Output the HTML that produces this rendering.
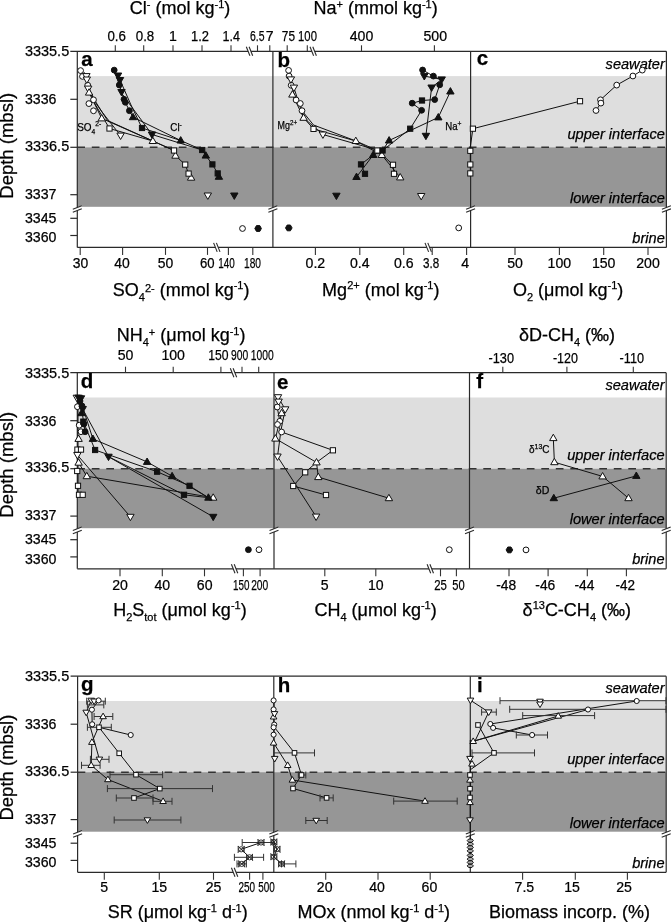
<!DOCTYPE html>
<html><head><meta charset="utf-8"><style>
html,body{margin:0;padding:0;background:#fff;}
svg{display:block;font-family:"Liberation Sans", sans-serif;filter:blur(0.5px);}
text{fill:#000;stroke:#000;stroke-width:0.25px;}
</style></head><body>
<svg width="671" height="922" viewBox="0 0 671 922">
<rect width="671" height="922" fill="#fff"/>
<rect x="77.3" y="76.1" width="589.1" height="71.2" fill="#dedede"/>
<rect x="77.3" y="147.3" width="589.1" height="59.5" fill="#969696"/>
<line x1="77.30" y1="147.30" x2="666.40" y2="147.30" stroke="#333" stroke-width="1.4" stroke-dasharray="7.7 6.8"/>
<line x1="70.30" y1="51.30" x2="666.40" y2="51.30" stroke="#2a2a2a" stroke-width="1.2" />
<line x1="77.30" y1="247.40" x2="666.40" y2="247.40" stroke="#2a2a2a" stroke-width="1.2" />
<line x1="77.30" y1="51.30" x2="77.30" y2="247.40" stroke="#2a2a2a" stroke-width="1.2" />
<line x1="272.90" y1="51.30" x2="272.90" y2="247.40" stroke="#2a2a2a" stroke-width="1.2" />
<line x1="470.60" y1="51.30" x2="470.60" y2="247.40" stroke="#2a2a2a" stroke-width="1.2" />
<line x1="666.40" y1="51.30" x2="666.40" y2="247.40" stroke="#2a2a2a" stroke-width="1.2" />
<line x1="70.30" y1="99.30" x2="77.30" y2="99.30" stroke="#2a2a2a" stroke-width="1.2" />
<line x1="70.30" y1="147.30" x2="77.30" y2="147.30" stroke="#2a2a2a" stroke-width="1.2" />
<line x1="70.30" y1="194.70" x2="77.30" y2="194.70" stroke="#2a2a2a" stroke-width="1.2" />
<line x1="70.30" y1="218.30" x2="77.30" y2="218.30" stroke="#2a2a2a" stroke-width="1.2" />
<line x1="70.30" y1="235.50" x2="77.30" y2="235.50" stroke="#2a2a2a" stroke-width="1.2" />
<text x="24.9" y="56.2" font-size="14.5" text-anchor="start" font-weight="normal" font-style="normal" textLength="44.3" lengthAdjust="spacingAndGlyphs">3335.5</text>
<text x="24.9" y="104.2" font-size="14.5" text-anchor="start" font-weight="normal" font-style="normal" textLength="31.5" lengthAdjust="spacingAndGlyphs">3336</text>
<text x="24.9" y="151.0" font-size="14.5" text-anchor="start" font-weight="normal" font-style="normal" textLength="44.3" lengthAdjust="spacingAndGlyphs">3336.5</text>
<text x="24.9" y="198.9" font-size="14.5" text-anchor="start" font-weight="normal" font-style="normal" textLength="31.5" lengthAdjust="spacingAndGlyphs">3337</text>
<text x="24.9" y="222.7" font-size="14.5" text-anchor="start" font-weight="normal" font-style="normal" textLength="31.5" lengthAdjust="spacingAndGlyphs">3345</text>
<text x="24.9" y="242.3" font-size="14.5" text-anchor="start" font-weight="normal" font-style="normal" textLength="31.5" lengthAdjust="spacingAndGlyphs">3360</text>
<polygon points="72.80,209.15 81.80,205.65 81.80,208.85 72.80,212.35" fill="#fff"/>
<line x1="72.80" y1="209.15" x2="81.80" y2="205.65" stroke="#2a2a2a" stroke-width="1.1" />
<line x1="72.80" y1="212.35" x2="81.80" y2="208.85" stroke="#2a2a2a" stroke-width="1.1" />
<polygon points="268.40,209.15 277.40,205.65 277.40,208.85 268.40,212.35" fill="#fff"/>
<line x1="268.40" y1="209.15" x2="277.40" y2="205.65" stroke="#2a2a2a" stroke-width="1.1" />
<line x1="268.40" y1="212.35" x2="277.40" y2="208.85" stroke="#2a2a2a" stroke-width="1.1" />
<polygon points="466.10,209.15 475.10,205.65 475.10,208.85 466.10,212.35" fill="#fff"/>
<line x1="466.10" y1="209.15" x2="475.10" y2="205.65" stroke="#2a2a2a" stroke-width="1.1" />
<line x1="466.10" y1="212.35" x2="475.10" y2="208.85" stroke="#2a2a2a" stroke-width="1.1" />
<polygon points="661.90,209.15 670.90,205.65 670.90,208.85 661.90,212.35" fill="#fff"/>
<line x1="661.90" y1="209.15" x2="670.90" y2="205.65" stroke="#2a2a2a" stroke-width="1.1" />
<line x1="661.90" y1="212.35" x2="670.90" y2="208.85" stroke="#2a2a2a" stroke-width="1.1" />
<text x="664.8" y="68.5" font-size="14.6" text-anchor="end" font-weight="normal" font-style="italic" >seawater</text>
<text x="664.8" y="138.6" font-size="14.6" text-anchor="end" font-weight="normal" font-style="italic" >upper interface</text>
<text x="664.8" y="202.8" font-size="14.6" text-anchor="end" font-weight="normal" font-style="italic" >lower interface</text>
<text x="664.8" y="242.6" font-size="14.6" text-anchor="end" font-weight="normal" font-style="italic" >brine</text>
<text x="13.4" y="145.8" font-size="18.5" text-anchor="middle" font-weight="normal" font-style="normal" transform="rotate(-90 13.4 145.8)">Depth (mbsl)</text>
<text x="81.3" y="66.0" font-size="20.5" text-anchor="start" font-weight="bold" font-style="normal" >a</text>
<text x="277.5" y="66.5" font-size="20.5" text-anchor="start" font-weight="bold" font-style="normal" >b</text>
<text x="476.7" y="65.0" font-size="20.5" text-anchor="start" font-weight="bold" font-style="normal" >c</text>
<rect x="77.3" y="397.5" width="588.9" height="71.2" fill="#dedede"/>
<rect x="77.3" y="468.7" width="588.9" height="59.5" fill="#969696"/>
<line x1="77.30" y1="468.70" x2="666.20" y2="468.70" stroke="#333" stroke-width="1.4" stroke-dasharray="7.7 6.8"/>
<line x1="70.30" y1="372.70" x2="666.20" y2="372.70" stroke="#2a2a2a" stroke-width="1.2" />
<line x1="77.30" y1="568.80" x2="666.20" y2="568.80" stroke="#2a2a2a" stroke-width="1.2" />
<line x1="77.30" y1="372.70" x2="77.30" y2="568.80" stroke="#2a2a2a" stroke-width="1.2" />
<line x1="274.00" y1="372.70" x2="274.00" y2="568.80" stroke="#2a2a2a" stroke-width="1.2" />
<line x1="469.50" y1="372.70" x2="469.50" y2="568.80" stroke="#2a2a2a" stroke-width="1.2" />
<line x1="666.20" y1="372.70" x2="666.20" y2="568.80" stroke="#2a2a2a" stroke-width="1.2" />
<line x1="70.30" y1="420.70" x2="77.30" y2="420.70" stroke="#2a2a2a" stroke-width="1.2" />
<line x1="70.30" y1="468.70" x2="77.30" y2="468.70" stroke="#2a2a2a" stroke-width="1.2" />
<line x1="70.30" y1="516.10" x2="77.30" y2="516.10" stroke="#2a2a2a" stroke-width="1.2" />
<line x1="70.30" y1="539.70" x2="77.30" y2="539.70" stroke="#2a2a2a" stroke-width="1.2" />
<line x1="70.30" y1="556.90" x2="77.30" y2="556.90" stroke="#2a2a2a" stroke-width="1.2" />
<text x="24.9" y="377.6" font-size="14.5" text-anchor="start" font-weight="normal" font-style="normal" textLength="44.3" lengthAdjust="spacingAndGlyphs">3335.5</text>
<text x="24.9" y="425.6" font-size="14.5" text-anchor="start" font-weight="normal" font-style="normal" textLength="31.5" lengthAdjust="spacingAndGlyphs">3336</text>
<text x="24.9" y="472.4" font-size="14.5" text-anchor="start" font-weight="normal" font-style="normal" textLength="44.3" lengthAdjust="spacingAndGlyphs">3336.5</text>
<text x="24.9" y="520.3" font-size="14.5" text-anchor="start" font-weight="normal" font-style="normal" textLength="31.5" lengthAdjust="spacingAndGlyphs">3337</text>
<text x="24.9" y="544.1" font-size="14.5" text-anchor="start" font-weight="normal" font-style="normal" textLength="31.5" lengthAdjust="spacingAndGlyphs">3345</text>
<text x="24.9" y="563.7" font-size="14.5" text-anchor="start" font-weight="normal" font-style="normal" textLength="31.5" lengthAdjust="spacingAndGlyphs">3360</text>
<polygon points="72.80,530.55 81.80,527.05 81.80,530.25 72.80,533.75" fill="#fff"/>
<line x1="72.80" y1="530.55" x2="81.80" y2="527.05" stroke="#2a2a2a" stroke-width="1.1" />
<line x1="72.80" y1="533.75" x2="81.80" y2="530.25" stroke="#2a2a2a" stroke-width="1.1" />
<polygon points="269.50,530.55 278.50,527.05 278.50,530.25 269.50,533.75" fill="#fff"/>
<line x1="269.50" y1="530.55" x2="278.50" y2="527.05" stroke="#2a2a2a" stroke-width="1.1" />
<line x1="269.50" y1="533.75" x2="278.50" y2="530.25" stroke="#2a2a2a" stroke-width="1.1" />
<polygon points="465.00,530.55 474.00,527.05 474.00,530.25 465.00,533.75" fill="#fff"/>
<line x1="465.00" y1="530.55" x2="474.00" y2="527.05" stroke="#2a2a2a" stroke-width="1.1" />
<line x1="465.00" y1="533.75" x2="474.00" y2="530.25" stroke="#2a2a2a" stroke-width="1.1" />
<polygon points="661.70,530.55 670.70,527.05 670.70,530.25 661.70,533.75" fill="#fff"/>
<line x1="661.70" y1="530.55" x2="670.70" y2="527.05" stroke="#2a2a2a" stroke-width="1.1" />
<line x1="661.70" y1="533.75" x2="670.70" y2="530.25" stroke="#2a2a2a" stroke-width="1.1" />
<text x="664.6" y="389.9" font-size="14.6" text-anchor="end" font-weight="normal" font-style="italic" >seawater</text>
<text x="664.6" y="460.0" font-size="14.6" text-anchor="end" font-weight="normal" font-style="italic" >upper interface</text>
<text x="664.6" y="524.2" font-size="14.6" text-anchor="end" font-weight="normal" font-style="italic" >lower interface</text>
<text x="664.6" y="564.0" font-size="14.6" text-anchor="end" font-weight="normal" font-style="italic" >brine</text>
<text x="13.4" y="464.8" font-size="18.5" text-anchor="middle" font-weight="normal" font-style="normal" transform="rotate(-90 13.4 464.8)">Depth (mbsl)</text>
<text x="80.8" y="388.2" font-size="20.5" text-anchor="start" font-weight="bold" font-style="normal" >d</text>
<text x="276.9" y="388.7" font-size="20.5" text-anchor="start" font-weight="bold" font-style="normal" >e</text>
<text x="476.2" y="387.7" font-size="20.5" text-anchor="start" font-weight="bold" font-style="normal" >f</text>
<rect x="77.6" y="701.0" width="588.6" height="71.2" fill="#dedede"/>
<rect x="77.6" y="772.2" width="588.6" height="59.5" fill="#969696"/>
<line x1="77.60" y1="772.20" x2="666.20" y2="772.20" stroke="#333" stroke-width="1.4" stroke-dasharray="7.7 6.8"/>
<line x1="70.60" y1="676.20" x2="666.20" y2="676.20" stroke="#2a2a2a" stroke-width="1.2" />
<line x1="77.60" y1="872.30" x2="666.20" y2="872.30" stroke="#2a2a2a" stroke-width="1.2" />
<line x1="77.60" y1="676.20" x2="77.60" y2="872.30" stroke="#2a2a2a" stroke-width="1.2" />
<line x1="273.80" y1="676.20" x2="273.80" y2="872.30" stroke="#2a2a2a" stroke-width="1.2" />
<line x1="470.30" y1="676.20" x2="470.30" y2="872.30" stroke="#2a2a2a" stroke-width="1.2" />
<line x1="666.20" y1="676.20" x2="666.20" y2="872.30" stroke="#2a2a2a" stroke-width="1.2" />
<line x1="70.60" y1="724.20" x2="77.60" y2="724.20" stroke="#2a2a2a" stroke-width="1.2" />
<line x1="70.60" y1="772.20" x2="77.60" y2="772.20" stroke="#2a2a2a" stroke-width="1.2" />
<line x1="70.60" y1="819.60" x2="77.60" y2="819.60" stroke="#2a2a2a" stroke-width="1.2" />
<line x1="70.60" y1="843.20" x2="77.60" y2="843.20" stroke="#2a2a2a" stroke-width="1.2" />
<line x1="70.60" y1="860.40" x2="77.60" y2="860.40" stroke="#2a2a2a" stroke-width="1.2" />
<text x="24.9" y="681.1" font-size="14.5" text-anchor="start" font-weight="normal" font-style="normal" textLength="44.3" lengthAdjust="spacingAndGlyphs">3335.5</text>
<text x="24.9" y="729.1" font-size="14.5" text-anchor="start" font-weight="normal" font-style="normal" textLength="31.5" lengthAdjust="spacingAndGlyphs">3336</text>
<text x="24.9" y="775.9" font-size="14.5" text-anchor="start" font-weight="normal" font-style="normal" textLength="44.3" lengthAdjust="spacingAndGlyphs">3336.5</text>
<text x="24.9" y="823.8" font-size="14.5" text-anchor="start" font-weight="normal" font-style="normal" textLength="31.5" lengthAdjust="spacingAndGlyphs">3337</text>
<text x="24.9" y="847.6" font-size="14.5" text-anchor="start" font-weight="normal" font-style="normal" textLength="31.5" lengthAdjust="spacingAndGlyphs">3345</text>
<text x="24.9" y="867.2" font-size="14.5" text-anchor="start" font-weight="normal" font-style="normal" textLength="31.5" lengthAdjust="spacingAndGlyphs">3360</text>
<polygon points="73.10,834.05 82.10,830.55 82.10,833.75 73.10,837.25" fill="#fff"/>
<line x1="73.10" y1="834.05" x2="82.10" y2="830.55" stroke="#2a2a2a" stroke-width="1.1" />
<line x1="73.10" y1="837.25" x2="82.10" y2="833.75" stroke="#2a2a2a" stroke-width="1.1" />
<polygon points="269.30,834.05 278.30,830.55 278.30,833.75 269.30,837.25" fill="#fff"/>
<line x1="269.30" y1="834.05" x2="278.30" y2="830.55" stroke="#2a2a2a" stroke-width="1.1" />
<line x1="269.30" y1="837.25" x2="278.30" y2="833.75" stroke="#2a2a2a" stroke-width="1.1" />
<polygon points="465.80,834.05 474.80,830.55 474.80,833.75 465.80,837.25" fill="#fff"/>
<line x1="465.80" y1="834.05" x2="474.80" y2="830.55" stroke="#2a2a2a" stroke-width="1.1" />
<line x1="465.80" y1="837.25" x2="474.80" y2="833.75" stroke="#2a2a2a" stroke-width="1.1" />
<polygon points="661.70,834.05 670.70,830.55 670.70,833.75 661.70,837.25" fill="#fff"/>
<line x1="661.70" y1="834.05" x2="670.70" y2="830.55" stroke="#2a2a2a" stroke-width="1.1" />
<line x1="661.70" y1="837.25" x2="670.70" y2="833.75" stroke="#2a2a2a" stroke-width="1.1" />
<text x="664.6" y="693.4" font-size="14.6" text-anchor="end" font-weight="normal" font-style="italic" >seawater</text>
<text x="664.6" y="763.5" font-size="14.6" text-anchor="end" font-weight="normal" font-style="italic" >upper interface</text>
<text x="664.6" y="827.7" font-size="14.6" text-anchor="end" font-weight="normal" font-style="italic" >lower interface</text>
<text x="664.6" y="867.5" font-size="14.6" text-anchor="end" font-weight="normal" font-style="italic" >brine</text>
<text x="13.4" y="767.6" font-size="18.5" text-anchor="middle" font-weight="normal" font-style="normal" transform="rotate(-90 13.4 767.6)">Depth (mbsl)</text>
<text x="81.0" y="691.4" font-size="20.5" text-anchor="start" font-weight="bold" font-style="normal" >g</text>
<text x="277.8" y="692.0" font-size="20.5" text-anchor="start" font-weight="bold" font-style="normal" >h</text>
<text x="476.9" y="692.0" font-size="20.5" text-anchor="start" font-weight="bold" font-style="normal" >i</text>
<line x1="115.30" y1="45.30" x2="115.30" y2="51.30" stroke="#333" stroke-width="1.1" />
<text x="116.7" y="40.7" font-size="15.2" text-anchor="middle" font-weight="normal" font-style="normal" textLength="18.5" lengthAdjust="spacingAndGlyphs">0.6</text>
<line x1="143.70" y1="45.30" x2="143.70" y2="51.30" stroke="#333" stroke-width="1.1" />
<text x="145.0" y="40.7" font-size="15.2" text-anchor="middle" font-weight="normal" font-style="normal" textLength="18.5" lengthAdjust="spacingAndGlyphs">0.8</text>
<line x1="173.00" y1="45.30" x2="173.00" y2="51.30" stroke="#333" stroke-width="1.1" />
<text transform="translate(173.0 40.7) scale(0.93 1)" font-size="15.2" text-anchor="middle" font-weight="normal" font-style="normal" >1</text>
<line x1="202.00" y1="45.30" x2="202.00" y2="51.30" stroke="#333" stroke-width="1.1" />
<text x="200.0" y="40.7" font-size="15.2" text-anchor="middle" font-weight="normal" font-style="normal" textLength="18" lengthAdjust="spacingAndGlyphs">1.2</text>
<line x1="231.00" y1="45.30" x2="231.00" y2="51.30" stroke="#333" stroke-width="1.1" />
<text x="231.2" y="40.7" font-size="15.2" text-anchor="middle" font-weight="normal" font-style="normal" textLength="17.5" lengthAdjust="spacingAndGlyphs">1.4</text>
<line x1="257.50" y1="45.30" x2="257.50" y2="51.30" stroke="#333" stroke-width="1.1" />
<text x="257.2" y="40.7" font-size="15.2" text-anchor="middle" font-weight="normal" font-style="normal" textLength="14.5" lengthAdjust="spacingAndGlyphs">6.5</text>
<line x1="269.80" y1="45.30" x2="269.80" y2="51.30" stroke="#333" stroke-width="1.1" />
<text transform="translate(269.8 40.7) scale(0.93 1)" font-size="15.2" text-anchor="middle" font-weight="normal" font-style="normal" >7</text>
<polygon points="246.30,46.80 249.90,55.80 252.70,55.80 249.10,46.80" fill="#fff"/>
<line x1="246.30" y1="46.80" x2="249.90" y2="55.80" stroke="#2a2a2a" stroke-width="1.1" />
<line x1="249.10" y1="46.80" x2="252.70" y2="55.80" stroke="#2a2a2a" stroke-width="1.1" />
<line x1="287.20" y1="45.30" x2="287.20" y2="51.30" stroke="#333" stroke-width="1.1" />
<text x="288.4" y="40.7" font-size="15.2" text-anchor="middle" font-weight="normal" font-style="normal" textLength="13.2" lengthAdjust="spacingAndGlyphs">75</text>
<line x1="307.30" y1="45.30" x2="307.30" y2="51.30" stroke="#333" stroke-width="1.1" />
<text x="307.5" y="40.7" font-size="15.2" text-anchor="middle" font-weight="normal" font-style="normal" textLength="18.8" lengthAdjust="spacingAndGlyphs">100</text>
<line x1="361.50" y1="45.30" x2="361.50" y2="51.30" stroke="#333" stroke-width="1.1" />
<text transform="translate(361.5 40.7) scale(0.93 1)" font-size="15.2" text-anchor="middle" font-weight="normal" font-style="normal" >400</text>
<line x1="434.40" y1="45.30" x2="434.40" y2="51.30" stroke="#333" stroke-width="1.1" />
<text transform="translate(435.3 40.7) scale(0.93 1)" font-size="15.2" text-anchor="middle" font-weight="normal" font-style="normal" >500</text>
<polygon points="310.00,46.80 313.60,55.80 316.40,55.80 312.80,46.80" fill="#fff"/>
<line x1="310.00" y1="46.80" x2="313.60" y2="55.80" stroke="#2a2a2a" stroke-width="1.1" />
<line x1="312.80" y1="46.80" x2="316.40" y2="55.80" stroke="#2a2a2a" stroke-width="1.1" />
<line x1="80.20" y1="247.40" x2="80.20" y2="254.90" stroke="#333" stroke-width="1.1" />
<text x="80.6" y="268.2" font-size="15.2" text-anchor="middle" font-weight="normal" font-style="normal" textLength="15.5" lengthAdjust="spacingAndGlyphs">30</text>
<line x1="122.60" y1="247.40" x2="122.60" y2="254.90" stroke="#333" stroke-width="1.1" />
<text x="122.0" y="268.2" font-size="15.2" text-anchor="middle" font-weight="normal" font-style="normal" textLength="15.5" lengthAdjust="spacingAndGlyphs">40</text>
<line x1="165.50" y1="247.40" x2="165.50" y2="254.90" stroke="#333" stroke-width="1.1" />
<text x="165.5" y="268.2" font-size="15.2" text-anchor="middle" font-weight="normal" font-style="normal" textLength="15.5" lengthAdjust="spacingAndGlyphs">50</text>
<line x1="207.50" y1="247.40" x2="207.50" y2="254.90" stroke="#333" stroke-width="1.1" />
<text x="207.2" y="268.2" font-size="15.2" text-anchor="middle" font-weight="normal" font-style="normal" textLength="14.6" lengthAdjust="spacingAndGlyphs">60</text>
<line x1="228.40" y1="247.40" x2="228.40" y2="254.90" stroke="#333" stroke-width="1.1" />
<text x="226.5" y="268.2" font-size="15.2" text-anchor="middle" font-weight="normal" font-style="normal" textLength="16.5" lengthAdjust="spacingAndGlyphs">140</text>
<line x1="252.80" y1="247.40" x2="252.80" y2="254.90" stroke="#333" stroke-width="1.1" />
<text x="252.5" y="268.2" font-size="15.2" text-anchor="middle" font-weight="normal" font-style="normal" textLength="17" lengthAdjust="spacingAndGlyphs">180</text>
<polygon points="213.60,242.90 217.20,251.90 220.00,251.90 216.40,242.90" fill="#fff"/>
<line x1="213.60" y1="242.90" x2="217.20" y2="251.90" stroke="#2a2a2a" stroke-width="1.1" />
<line x1="216.40" y1="242.90" x2="220.00" y2="251.90" stroke="#2a2a2a" stroke-width="1.1" />
<line x1="315.40" y1="247.40" x2="315.40" y2="254.90" stroke="#333" stroke-width="1.1" />
<text transform="translate(315.4 268.2) scale(0.93 1)" font-size="15.2" text-anchor="middle" font-weight="normal" font-style="normal" >0.2</text>
<line x1="359.80" y1="247.40" x2="359.80" y2="254.90" stroke="#333" stroke-width="1.1" />
<text transform="translate(359.8 268.2) scale(0.93 1)" font-size="15.2" text-anchor="middle" font-weight="normal" font-style="normal" >0.4</text>
<line x1="403.70" y1="247.40" x2="403.70" y2="254.90" stroke="#333" stroke-width="1.1" />
<text transform="translate(403.7 268.2) scale(0.93 1)" font-size="15.2" text-anchor="middle" font-weight="normal" font-style="normal" >0.6</text>
<line x1="432.20" y1="247.40" x2="432.20" y2="254.90" stroke="#333" stroke-width="1.1" />
<text x="431.2" y="268.2" font-size="15.2" text-anchor="middle" font-weight="normal" font-style="normal" textLength="16.2" lengthAdjust="spacingAndGlyphs">3.8</text>
<line x1="466.60" y1="247.40" x2="466.60" y2="254.90" stroke="#333" stroke-width="1.1" />
<text transform="translate(465.3 268.2) scale(0.93 1)" font-size="15.2" text-anchor="middle" font-weight="normal" font-style="normal" >4</text>
<polygon points="425.00,242.90 428.60,251.90 431.40,251.90 427.80,242.90" fill="#fff"/>
<line x1="425.00" y1="242.90" x2="428.60" y2="251.90" stroke="#2a2a2a" stroke-width="1.1" />
<line x1="427.80" y1="242.90" x2="431.40" y2="251.90" stroke="#2a2a2a" stroke-width="1.1" />
<line x1="515.00" y1="247.40" x2="515.00" y2="254.90" stroke="#333" stroke-width="1.1" />
<text transform="translate(515.0 268.2) scale(0.93 1)" font-size="15.2" text-anchor="middle" font-weight="normal" font-style="normal" >50</text>
<line x1="559.40" y1="247.40" x2="559.40" y2="254.90" stroke="#333" stroke-width="1.1" />
<text transform="translate(559.4 268.2) scale(0.93 1)" font-size="15.2" text-anchor="middle" font-weight="normal" font-style="normal" >100</text>
<line x1="603.70" y1="247.40" x2="603.70" y2="254.90" stroke="#333" stroke-width="1.1" />
<text transform="translate(603.7 268.2) scale(0.93 1)" font-size="15.2" text-anchor="middle" font-weight="normal" font-style="normal" >150</text>
<line x1="648.00" y1="247.40" x2="648.00" y2="254.90" stroke="#333" stroke-width="1.1" />
<text transform="translate(648.0 268.2) scale(0.93 1)" font-size="15.2" text-anchor="middle" font-weight="normal" font-style="normal" >200</text>
<line x1="125.50" y1="366.70" x2="125.50" y2="372.70" stroke="#333" stroke-width="1.1" />
<text transform="translate(125.5 360.3) scale(0.93 1)" font-size="15.2" text-anchor="middle" font-weight="normal" font-style="normal" >50</text>
<line x1="173.20" y1="366.70" x2="173.20" y2="372.70" stroke="#333" stroke-width="1.1" />
<text transform="translate(173.2 360.3) scale(0.93 1)" font-size="15.2" text-anchor="middle" font-weight="normal" font-style="normal" >100</text>
<line x1="220.90" y1="366.70" x2="220.90" y2="372.70" stroke="#333" stroke-width="1.1" />
<text x="218.3" y="360.3" font-size="15.2" text-anchor="middle" font-weight="normal" font-style="normal" textLength="20.3" lengthAdjust="spacingAndGlyphs">150</text>
<line x1="242.00" y1="366.70" x2="242.00" y2="372.70" stroke="#333" stroke-width="1.1" />
<text x="239.7" y="360.3" font-size="15.2" text-anchor="middle" font-weight="normal" font-style="normal" textLength="17.2" lengthAdjust="spacingAndGlyphs">900</text>
<line x1="258.70" y1="366.70" x2="258.70" y2="372.70" stroke="#333" stroke-width="1.1" />
<text x="262.3" y="360.3" font-size="15.2" text-anchor="middle" font-weight="normal" font-style="normal" textLength="22.9" lengthAdjust="spacingAndGlyphs">1000</text>
<polygon points="230.30,368.20 233.90,377.20 236.70,377.20 233.10,368.20" fill="#fff"/>
<line x1="230.30" y1="368.20" x2="233.90" y2="377.20" stroke="#2a2a2a" stroke-width="1.1" />
<line x1="233.10" y1="368.20" x2="236.70" y2="377.20" stroke="#2a2a2a" stroke-width="1.1" />
<line x1="502.80" y1="366.70" x2="502.80" y2="372.70" stroke="#333" stroke-width="1.1" />
<text x="501.3" y="363.3" font-size="15.2" text-anchor="middle" font-weight="normal" font-style="normal" textLength="25.5" lengthAdjust="spacingAndGlyphs">-130</text>
<line x1="566.90" y1="366.70" x2="566.90" y2="372.70" stroke="#333" stroke-width="1.1" />
<text x="565.4" y="363.3" font-size="15.2" text-anchor="middle" font-weight="normal" font-style="normal" textLength="25" lengthAdjust="spacingAndGlyphs">-120</text>
<line x1="633.30" y1="366.70" x2="633.30" y2="372.70" stroke="#333" stroke-width="1.1" />
<text x="631.8" y="363.3" font-size="15.2" text-anchor="middle" font-weight="normal" font-style="normal" textLength="24.5" lengthAdjust="spacingAndGlyphs">-110</text>
<line x1="120.00" y1="568.80" x2="120.00" y2="576.30" stroke="#333" stroke-width="1.1" />
<text transform="translate(120.0 589.5) scale(0.93 1)" font-size="15.2" text-anchor="middle" font-weight="normal" font-style="normal" >20</text>
<line x1="162.30" y1="568.80" x2="162.30" y2="576.30" stroke="#333" stroke-width="1.1" />
<text transform="translate(162.3 589.5) scale(0.93 1)" font-size="15.2" text-anchor="middle" font-weight="normal" font-style="normal" >40</text>
<line x1="204.50" y1="568.80" x2="204.50" y2="576.30" stroke="#333" stroke-width="1.1" />
<text x="204.7" y="589.5" font-size="15.2" text-anchor="middle" font-weight="normal" font-style="normal" textLength="15.7" lengthAdjust="spacingAndGlyphs">60</text>
<line x1="243.40" y1="568.80" x2="243.40" y2="576.30" stroke="#333" stroke-width="1.1" />
<text x="241.3" y="589.5" font-size="15.2" text-anchor="middle" font-weight="normal" font-style="normal" textLength="16.4" lengthAdjust="spacingAndGlyphs">150</text>
<line x1="260.10" y1="568.80" x2="260.10" y2="576.30" stroke="#333" stroke-width="1.1" />
<text x="259.7" y="589.5" font-size="15.2" text-anchor="middle" font-weight="normal" font-style="normal" textLength="17.1" lengthAdjust="spacingAndGlyphs">200</text>
<polygon points="231.40,564.30 235.00,573.30 237.80,573.30 234.20,564.30" fill="#fff"/>
<line x1="231.40" y1="564.30" x2="235.00" y2="573.30" stroke="#2a2a2a" stroke-width="1.1" />
<line x1="234.20" y1="564.30" x2="237.80" y2="573.30" stroke="#2a2a2a" stroke-width="1.1" />
<line x1="324.80" y1="568.80" x2="324.80" y2="576.30" stroke="#333" stroke-width="1.1" />
<text transform="translate(324.8 589.5) scale(0.93 1)" font-size="15.2" text-anchor="middle" font-weight="normal" font-style="normal" >5</text>
<line x1="375.80" y1="568.80" x2="375.80" y2="576.30" stroke="#333" stroke-width="1.1" />
<text transform="translate(375.8 589.5) scale(0.93 1)" font-size="15.2" text-anchor="middle" font-weight="normal" font-style="normal" >10</text>
<line x1="440.50" y1="568.80" x2="440.50" y2="576.30" stroke="#333" stroke-width="1.1" />
<text x="440.6" y="589.5" font-size="15.2" text-anchor="middle" font-weight="normal" font-style="normal" textLength="12.7" lengthAdjust="spacingAndGlyphs">25</text>
<line x1="456.40" y1="568.80" x2="456.40" y2="576.30" stroke="#333" stroke-width="1.1" />
<text x="458.5" y="589.5" font-size="15.2" text-anchor="middle" font-weight="normal" font-style="normal" textLength="12.4" lengthAdjust="spacingAndGlyphs">50</text>
<polygon points="427.10,564.30 430.70,573.30 433.50,573.30 429.90,564.30" fill="#fff"/>
<line x1="427.10" y1="564.30" x2="430.70" y2="573.30" stroke="#2a2a2a" stroke-width="1.1" />
<line x1="429.90" y1="564.30" x2="433.50" y2="573.30" stroke="#2a2a2a" stroke-width="1.1" />
<line x1="509.00" y1="568.80" x2="509.00" y2="576.30" stroke="#333" stroke-width="1.1" />
<text x="506.2" y="589.5" font-size="15.2" text-anchor="middle" font-weight="normal" font-style="normal" textLength="20" lengthAdjust="spacingAndGlyphs">-48</text>
<line x1="548.10" y1="568.80" x2="548.10" y2="576.30" stroke="#333" stroke-width="1.1" />
<text x="545.3" y="589.5" font-size="15.2" text-anchor="middle" font-weight="normal" font-style="normal" textLength="20" lengthAdjust="spacingAndGlyphs">-46</text>
<line x1="587.30" y1="568.80" x2="587.30" y2="576.30" stroke="#333" stroke-width="1.1" />
<text x="584.5" y="589.5" font-size="15.2" text-anchor="middle" font-weight="normal" font-style="normal" textLength="20" lengthAdjust="spacingAndGlyphs">-44</text>
<line x1="626.40" y1="568.80" x2="626.40" y2="576.30" stroke="#333" stroke-width="1.1" />
<text x="625.3" y="589.5" font-size="15.2" text-anchor="middle" font-weight="normal" font-style="normal" textLength="19.5" lengthAdjust="spacingAndGlyphs">-42</text>
<line x1="104.30" y1="872.30" x2="104.30" y2="879.80" stroke="#333" stroke-width="1.1" />
<text transform="translate(104.3 892.3) scale(0.93 1)" font-size="15.2" text-anchor="middle" font-weight="normal" font-style="normal" >5</text>
<line x1="159.30" y1="872.30" x2="159.30" y2="879.80" stroke="#333" stroke-width="1.1" />
<text transform="translate(159.3 892.3) scale(0.93 1)" font-size="15.2" text-anchor="middle" font-weight="normal" font-style="normal" >15</text>
<line x1="213.50" y1="872.30" x2="213.50" y2="879.80" stroke="#333" stroke-width="1.1" />
<text transform="translate(213.5 892.3) scale(0.93 1)" font-size="15.2" text-anchor="middle" font-weight="normal" font-style="normal" >25</text>
<line x1="249.60" y1="872.30" x2="249.60" y2="879.80" stroke="#333" stroke-width="1.1" />
<text x="246.8" y="892.3" font-size="15.2" text-anchor="middle" font-weight="normal" font-style="normal" textLength="16.6" lengthAdjust="spacingAndGlyphs">250</text>
<line x1="262.90" y1="872.30" x2="262.90" y2="879.80" stroke="#333" stroke-width="1.1" />
<text x="266.5" y="892.3" font-size="15.2" text-anchor="middle" font-weight="normal" font-style="normal" textLength="16.5" lengthAdjust="spacingAndGlyphs">500</text>
<polygon points="231.40,867.80 235.00,876.80 237.80,876.80 234.20,867.80" fill="#fff"/>
<line x1="231.40" y1="867.80" x2="235.00" y2="876.80" stroke="#2a2a2a" stroke-width="1.1" />
<line x1="234.20" y1="867.80" x2="237.80" y2="876.80" stroke="#2a2a2a" stroke-width="1.1" />
<line x1="325.70" y1="872.30" x2="325.70" y2="879.80" stroke="#333" stroke-width="1.1" />
<text transform="translate(324.7 892.3) scale(0.93 1)" font-size="15.2" text-anchor="middle" font-weight="normal" font-style="normal" >20</text>
<line x1="378.00" y1="872.30" x2="378.00" y2="879.80" stroke="#333" stroke-width="1.1" />
<text transform="translate(377.0 892.3) scale(0.93 1)" font-size="15.2" text-anchor="middle" font-weight="normal" font-style="normal" >40</text>
<line x1="430.20" y1="872.30" x2="430.20" y2="879.80" stroke="#333" stroke-width="1.1" />
<text transform="translate(429.4 892.3) scale(0.93 1)" font-size="15.2" text-anchor="middle" font-weight="normal" font-style="normal" >60</text>
<line x1="522.60" y1="872.30" x2="522.60" y2="879.80" stroke="#333" stroke-width="1.1" />
<text transform="translate(524.4 892.3) scale(0.93 1)" font-size="15.2" text-anchor="middle" font-weight="normal" font-style="normal" >7.5</text>
<line x1="575.30" y1="872.30" x2="575.30" y2="879.80" stroke="#333" stroke-width="1.1" />
<text transform="translate(572.0 892.3) scale(0.93 1)" font-size="15.2" text-anchor="middle" font-weight="normal" font-style="normal" >15</text>
<line x1="627.40" y1="872.30" x2="627.40" y2="879.80" stroke="#333" stroke-width="1.1" />
<text transform="translate(624.1 892.3) scale(0.93 1)" font-size="15.2" text-anchor="middle" font-weight="normal" font-style="normal" >25</text>
<text x="180.1" y="14.3" font-size="18" text-anchor="middle">Cl<tspan font-size="11" dy="-6.5">-</tspan><tspan dy="6.5"> (mol kg</tspan><tspan font-size="11" dy="-6.5">-1</tspan><tspan dy="6.5">)</tspan></text>
<text x="375.6" y="14.3" font-size="18" text-anchor="middle">Na<tspan font-size="11" dy="-6.5">+</tspan><tspan dy="6.5"> (mmol kg</tspan><tspan font-size="11" dy="-6.5">-1</tspan><tspan dy="6.5">)</tspan></text>
<text x="181.1" y="295.8" font-size="18" text-anchor="middle">SO<tspan font-size="11" dy="5">4</tspan><tspan font-size="11" dy="-9.3">2-</tspan><tspan dy="4.3"> (mmol kg</tspan><tspan font-size="11" dy="-6.5">-1</tspan><tspan dy="6.5">)</tspan></text>
<text x="380.8" y="295.8" font-size="18" text-anchor="middle">Mg<tspan font-size="11" dy="-6.5">2+</tspan><tspan dy="6.5"> (mol kg</tspan><tspan font-size="11" dy="-6.5">-1</tspan><tspan dy="6.5">)</tspan></text>
<text x="568.1" y="295.8" font-size="18" text-anchor="middle">O<tspan font-size="11" dy="5">2</tspan><tspan dy="-5"> (μmol kg</tspan><tspan font-size="11" dy="-6.5">-1</tspan><tspan dy="6.5">)</tspan></text>
<text x="181.1" y="341.2" font-size="18" text-anchor="middle">NH<tspan font-size="11" dy="5">4</tspan><tspan font-size="11" dy="-10">+</tspan><tspan dy="5"> (μmol kg</tspan><tspan font-size="11" dy="-6.5">-1</tspan><tspan dy="6.5">)</tspan></text>
<text x="567.0" y="341.2" font-size="18" text-anchor="middle">δD-CH<tspan font-size="11" dy="5">4</tspan><tspan dy="-5"> (‰)</tspan></text>
<text x="179.9" y="615.5" font-size="18" text-anchor="middle">H<tspan font-size="11" dy="5">2</tspan><tspan dy="-5">S</tspan><tspan font-size="11" dy="5">tot</tspan><tspan dy="-5"> (μmol kg</tspan><tspan font-size="11" dy="-6.5">-1</tspan><tspan dy="6.5">)</tspan></text>
<text x="375.6" y="615.5" font-size="18" text-anchor="middle">CH<tspan font-size="11" dy="5">4</tspan><tspan dy="-5"> (μmol kg</tspan><tspan font-size="11" dy="-6.5">-1</tspan><tspan dy="6.5">)</tspan></text>
<text x="576.8" y="615.5" font-size="18" text-anchor="middle">δ<tspan font-size="11" dy="-6.5">13</tspan><tspan dy="6.5">C-CH</tspan><tspan font-size="11" dy="5">4</tspan><tspan dy="-5"> (‰)</tspan></text>
<text x="177.7" y="918" font-size="18" text-anchor="middle">SR (μmol kg<tspan font-size="11" dy="-6.5">-1</tspan><tspan dy="6.5"> d</tspan><tspan font-size="11" dy="-6.5">-1</tspan><tspan dy="6.5">)</tspan></text>
<text x="373.8" y="918" font-size="18" text-anchor="middle">MOx (nmol kg<tspan font-size="11" dy="-6.5">-1</tspan><tspan dy="6.5"> d</tspan><tspan font-size="11" dy="-6.5">-1</tspan><tspan dy="6.5">)</tspan></text>
<text x="569.6" y="918" font-size="18" text-anchor="middle">Biomass incorp. (%)</text>
<polyline points="80.6,70.6 82.5,76.4 86.6,78.0 88.2,88.6 93.5,99.8 102.0,112.0 120.6,135.6" fill="none" stroke="#111" stroke-width="1"/>
<polyline points="84.0,72.0 89.1,92.6 101.7,118.4 152.8,141.0 174.0,150.5 175.5,155.7 185.2,164.6 188.6,173.6 191.1,177.7" fill="none" stroke="#111" stroke-width="1"/>
<polyline points="86.0,80.0 95.0,104.0 109.5,128.5 152.8,141.0" fill="none" stroke="#111" stroke-width="1"/>
<polyline points="88.0,88.0 97.0,104.0 107.5,120.5 174.0,150.5" fill="none" stroke="#111" stroke-width="1"/>
<polyline points="114.2,70.1 119.3,85.0 124.0,99.3 125.3,102.3 129.4,110.7 133.0,117.2 180.7,140.5 202.2,150.0 205.8,155.6 212.4,164.4 217.7,173.4 218.9,176.8" fill="none" stroke="#111" stroke-width="1"/>
<polyline points="118.0,75.0 120.0,80.0 131.0,105.0 142.0,128.0 180.7,140.5" fill="none" stroke="#111" stroke-width="1"/>
<polyline points="120.7,92.0 152.0,134.5 202.2,150.0" fill="none" stroke="#111" stroke-width="1"/>
<polyline points="288.6,70.4 289.1,76.1 291.2,85.3 296.1,100.0 300.3,103.5 302.0,110.7 313.5,125.0 356.0,141.0 377.4,150.5" fill="none" stroke="#111" stroke-width="1"/>
<polyline points="290.9,79.4 293.9,87.6 303.6,117.8 322.9,134.5 377.0,150.0 393.0,164.8 394.0,173.8" fill="none" stroke="#111" stroke-width="1"/>
<polyline points="292.4,94.6 303.6,117.8 313.5,128.9 355.8,141.0 381.8,155.0 400.2,177.4" fill="none" stroke="#111" stroke-width="1"/>
<polyline points="422.6,70.0 433.4,76.1 441.0,80.0 439.7,84.8 434.7,99.6 422.0,100.5 412.2,103.2 421.6,110.3 410.2,128.7" fill="none" stroke="#111" stroke-width="1"/>
<polyline points="424.3,76.1 441.7,79.4 431.6,87.5 425.9,135.8" fill="none" stroke="#111" stroke-width="1"/>
<polyline points="410.2,128.7 382.6,150.5 373.2,155.0 361.0,164.4 365.0,173.8" fill="none" stroke="#111" stroke-width="1"/>
<polyline points="450.4,91.5 438.3,117.4 389.1,140.5 382.6,150.5 373.2,155.0 356.5,177.0" fill="none" stroke="#111" stroke-width="1"/>
<polyline points="642.3,70.1 632.9,76.0 616.7,85.1 600.5,99.8 600.9,103.1 596.0,110.5" fill="none" stroke="#111" stroke-width="1"/>
<polyline points="580.0,101.2 472.9,128.7 470.3,147.0 470.3,173.4" fill="none" stroke="#111" stroke-width="1"/>
<polyline points="78.0,397.0 78.0,495.0" fill="none" stroke="#111" stroke-width="1"/>
<polyline points="82.0,405.0 92.9,438.9 147.1,461.9 172.1,476.2 208.4,497.7" fill="none" stroke="#111" stroke-width="1"/>
<polyline points="83.3,421.6 95.1,450.0 157.1,471.7 189.5,485.8 208.4,497.7" fill="none" stroke="#111" stroke-width="1"/>
<polyline points="82.7,409.0 108.5,456.7 213.2,516.8" fill="none" stroke="#111" stroke-width="1"/>
<polyline points="108.5,456.7 184.0,494.8 208.4,497.7" fill="none" stroke="#111" stroke-width="1"/>
<polyline points="77.4,455.0 130.4,516.8" fill="none" stroke="#111" stroke-width="1"/>
<polyline points="78.6,462.7 86.8,476.2 213.2,497.7" fill="none" stroke="#111" stroke-width="1"/>
<polyline points="80.0,398.0 83.9,424.0 85.1,431.7" fill="none" stroke="#111" stroke-width="1"/>
<polyline points="278.0,397.0 285.2,409.3 281.0,430.0 277.5,456.5 316.1,516.6" fill="none" stroke="#111" stroke-width="1"/>
<polyline points="281.6,413.2 275.4,438.6 316.5,462.4 318.3,477.1 388.9,498.2" fill="none" stroke="#111" stroke-width="1"/>
<polyline points="281.6,432.0 332.9,450.3 316.5,462.4 305.2,472.3 293.2,486.0 326.0,495.0" fill="none" stroke="#111" stroke-width="1"/>
<polyline points="277.2,407.0 279.8,421.3 277.5,424.5 281.6,432.0" fill="none" stroke="#111" stroke-width="1"/>
<polyline points="553.3,438.1 554.4,462.2 602.6,476.4 628.5,498.2" fill="none" stroke="#111" stroke-width="1"/>
<polyline points="553.8,498.2 636.3,475.9" fill="none" stroke="#111" stroke-width="1"/>
<polyline points="98.6,700.4 91.9,709.7 92.2,724.3" fill="none" stroke="#111" stroke-width="1"/>
<polyline points="99.0,727.3 130.7,735.0" fill="none" stroke="#111" stroke-width="1"/>
<polyline points="91.2,700.4 86.2,712.4 99.4,759.3" fill="none" stroke="#111" stroke-width="1"/>
<polyline points="103.1,716.5 91.9,742.2 91.2,765.3 107.9,779.5 163.1,801.3" fill="none" stroke="#111" stroke-width="1"/>
<polyline points="99.0,727.3 119.2,753.3 136.0,774.7 159.8,788.6 134.0,798.0" fill="none" stroke="#111" stroke-width="1"/>
<polyline points="261.0,842.5 241.2,849.3 249.5,857.3 241.7,863.9" fill="none" stroke="#111" stroke-width="1"/>
<polyline points="274.0,700.0 274.0,760.0" fill="none" stroke="#111" stroke-width="1"/>
<polyline points="274.2,727.0 294.5,752.9 301.5,775.0 293.0,788.5 326.6,797.9" fill="none" stroke="#111" stroke-width="1"/>
<polyline points="273.6,742.9 287.7,765.3 292.4,780.0 425.0,801.1" fill="none" stroke="#111" stroke-width="1"/>
<polyline points="273.9,842.0 277.0,849.2 273.9,856.8 281.5,863.9" fill="none" stroke="#111" stroke-width="1"/>
<polyline points="470.5,700.3 488.7,712.1 474.5,742.1" fill="none" stroke="#111" stroke-width="1"/>
<polyline points="480.0,728.0 494.0,752.9 470.0,770.0" fill="none" stroke="#111" stroke-width="1"/>
<polyline points="636.7,701.0 490.3,724.0" fill="none" stroke="#111" stroke-width="1"/>
<polyline points="588.0,709.5 473.2,741.3" fill="none" stroke="#111" stroke-width="1"/>
<polyline points="558.2,716.0 473.2,741.3" fill="none" stroke="#111" stroke-width="1"/>
<polyline points="493.1,727.9 532.1,735.0" fill="none" stroke="#111" stroke-width="1"/>
<polyline points="470.3,740.0 470.3,866.0" fill="none" stroke="#111" stroke-width="1"/>
<path d="M86.7 701.2H105.3M86.7 697.7V704.7M105.3 697.7V704.7" stroke="#333" stroke-width="1" fill="none"/>
<path d="M87.4 704.9H103.8M87.4 701.4V708.4M103.8 701.4V708.4" stroke="#333" stroke-width="1" fill="none"/>
<path d="M94.1 716.5H112.8M94.1 713.0V720.0M112.8 713.0V720.0" stroke="#333" stroke-width="1" fill="none"/>
<path d="M87.4 727.3H111.3M87.4 723.8V730.8M111.3 723.8V730.8" stroke="#333" stroke-width="1" fill="none"/>
<path d="M90.4 759.3H109.0M90.4 755.8V762.8M109.0 755.8V762.8" stroke="#333" stroke-width="1" fill="none"/>
<path d="M81.5 765.3H100.1M81.5 761.8V768.8M100.1 761.8V768.8" stroke="#333" stroke-width="1" fill="none"/>
<path d="M110.0 774.7H162.6M110.0 771.2V778.2M162.6 771.2V778.2" stroke="#333" stroke-width="1" fill="none"/>
<path d="M107.4 788.6H212.5M107.4 785.1V792.1M212.5 785.1V792.1" stroke="#333" stroke-width="1" fill="none"/>
<path d="M116.3 798.0H153.0M116.3 794.5V801.5M153.0 794.5V801.5" stroke="#333" stroke-width="1" fill="none"/>
<path d="M153.0 801.3H172.0M153.0 797.8V804.8M172.0 797.8V804.8" stroke="#333" stroke-width="1" fill="none"/>
<path d="M114.2 820.0H180.9M114.2 816.5V823.5M180.9 816.5V823.5" stroke="#333" stroke-width="1" fill="none"/>
<path d="M242.2 842.5H273.0M242.2 839.0V846.0M273.0 839.0V846.0" stroke="#333" stroke-width="1" fill="none"/>
<path d="M234.4 857.3H263.6M234.4 853.8V860.8M263.6 853.8V860.8" stroke="#333" stroke-width="1" fill="none"/>
<path d="M237.0 863.9H246.4M237.0 860.4V867.4M246.4 860.4V867.4" stroke="#333" stroke-width="1" fill="none"/>
<path d="M273.6 752.9H314.5M273.6 749.4V756.4M314.5 749.4V756.4" stroke="#333" stroke-width="1" fill="none"/>
<path d="M298.3 775.0H305.8M298.3 771.5V778.5M305.8 771.5V778.5" stroke="#333" stroke-width="1" fill="none"/>
<path d="M320.0 797.9H333.2M320.0 794.4V801.4M333.2 794.4V801.4" stroke="#333" stroke-width="1" fill="none"/>
<path d="M393.7 801.1H457.2M393.7 797.6V804.6M457.2 797.6V804.6" stroke="#333" stroke-width="1" fill="none"/>
<path d="M305.8 820.5H327.2M305.8 817.0V824.0M327.2 817.0V824.0" stroke="#333" stroke-width="1" fill="none"/>
<path d="M281.5 863.9H295.9M281.5 860.4V867.4M295.9 860.4V867.4" stroke="#333" stroke-width="1" fill="none"/>
<path d="M500.0 700.7H666.0M500.0 697.2V704.2M666.0 697.2V704.2" stroke="#333" stroke-width="1" fill="none"/>
<path d="M509.7 709.3H666.0M509.7 705.8V712.8M666.0 705.8V712.8" stroke="#333" stroke-width="1" fill="none"/>
<path d="M522.7 715.6H594.6M522.7 712.1V719.1M594.6 712.1V719.1" stroke="#333" stroke-width="1" fill="none"/>
<path d="M481.6 712.1H496.3M481.6 708.6V715.6M496.3 708.6V715.6" stroke="#333" stroke-width="1" fill="none"/>
<path d="M516.3 735.0H547.5M516.3 731.5V738.5M547.5 731.5V738.5" stroke="#333" stroke-width="1" fill="none"/>
<path d="M472.0 752.9H534.5M472.0 749.4V756.4M534.5 749.4V756.4" stroke="#333" stroke-width="1" fill="none"/>
<circle cx="80.6" cy="70.6" r="2.90" fill="#fff" stroke="#111" stroke-width="1"/>
<circle cx="82.5" cy="76.4" r="2.90" fill="#fff" stroke="#111" stroke-width="1"/>
<circle cx="87.7" cy="85.2" r="2.90" fill="#fff" stroke="#111" stroke-width="1"/>
<circle cx="93.5" cy="99.8" r="2.90" fill="#fff" stroke="#111" stroke-width="1"/>
<circle cx="88.9" cy="103.6" r="2.90" fill="#fff" stroke="#111" stroke-width="1"/>
<circle cx="93.5" cy="110.8" r="2.90" fill="#fff" stroke="#111" stroke-width="1"/>
<polygon points="86.4,80.0 90.1,73.6 82.7,73.6" fill="#fff" stroke="#111" stroke-width="1"/>
<polygon points="86.8,83.4 90.5,77.0 83.1,77.0" fill="#fff" stroke="#111" stroke-width="1"/>
<polygon points="88.2,92.5 91.9,86.1 84.5,86.1" fill="#fff" stroke="#111" stroke-width="1"/>
<polygon points="120.6,139.5 124.3,133.1 116.9,133.1" fill="#fff" stroke="#111" stroke-width="1"/>
<polygon points="207.8,199.4 211.5,193.0 204.1,193.0" fill="#fff" stroke="#111" stroke-width="1"/>
<polygon points="89.1,88.7 92.8,95.1 85.4,95.1" fill="#fff" stroke="#111" stroke-width="1"/>
<polygon points="101.7,114.5 105.4,120.9 98.0,120.9" fill="#fff" stroke="#111" stroke-width="1"/>
<polygon points="152.8,137.1 156.5,143.5 149.1,143.5" fill="#fff" stroke="#111" stroke-width="1"/>
<polygon points="175.5,151.8 179.2,158.2 171.8,158.2" fill="#fff" stroke="#111" stroke-width="1"/>
<polygon points="191.1,173.8 194.8,180.2 187.4,180.2" fill="#fff" stroke="#111" stroke-width="1"/>
<rect x="106.9" y="125.9" width="5.20" height="5.20" fill="#fff" stroke="#111" stroke-width="1"/>
<rect x="171.4" y="147.9" width="5.20" height="5.20" fill="#fff" stroke="#111" stroke-width="1"/>
<rect x="182.6" y="162.0" width="5.20" height="5.20" fill="#fff" stroke="#111" stroke-width="1"/>
<rect x="186.0" y="171.0" width="5.20" height="5.20" fill="#fff" stroke="#111" stroke-width="1"/>
<circle cx="242.5" cy="228.5" r="2.90" fill="#fff" stroke="#111" stroke-width="1"/>
<circle cx="114.2" cy="70.1" r="2.90" fill="#111" stroke="#111" stroke-width="1"/>
<circle cx="119.3" cy="85.0" r="2.90" fill="#111" stroke="#111" stroke-width="1"/>
<circle cx="124.0" cy="99.3" r="2.90" fill="#111" stroke="#111" stroke-width="1"/>
<circle cx="125.3" cy="102.3" r="2.90" fill="#111" stroke="#111" stroke-width="1"/>
<circle cx="129.4" cy="110.7" r="2.90" fill="#111" stroke="#111" stroke-width="1"/>
<polygon points="118.0,79.4 121.7,73.0 114.3,73.0" fill="#111" stroke="#111" stroke-width="1"/>
<polygon points="120.0,83.9 123.7,77.5 116.3,77.5" fill="#111" stroke="#111" stroke-width="1"/>
<polygon points="121.5,95.9 125.2,89.5 117.8,89.5" fill="#111" stroke="#111" stroke-width="1"/>
<polygon points="152.0,138.4 155.7,132.0 148.3,132.0" fill="#111" stroke="#111" stroke-width="1"/>
<polygon points="234.3,199.4 238.0,193.0 230.6,193.0" fill="#111" stroke="#111" stroke-width="1"/>
<polygon points="133.0,113.3 136.7,119.7 129.3,119.7" fill="#111" stroke="#111" stroke-width="1"/>
<polygon points="180.7,136.6 184.4,143.0 177.0,143.0" fill="#111" stroke="#111" stroke-width="1"/>
<polygon points="205.8,151.7 209.5,158.1 202.1,158.1" fill="#111" stroke="#111" stroke-width="1"/>
<polygon points="218.9,172.9 222.6,179.3 215.2,179.3" fill="#111" stroke="#111" stroke-width="1"/>
<rect x="139.4" y="125.4" width="5.20" height="5.20" fill="#111" stroke="#111" stroke-width="1"/>
<rect x="199.6" y="147.4" width="5.20" height="5.20" fill="#111" stroke="#111" stroke-width="1"/>
<rect x="209.8" y="161.8" width="5.20" height="5.20" fill="#111" stroke="#111" stroke-width="1"/>
<rect x="215.1" y="170.8" width="5.20" height="5.20" fill="#111" stroke="#111" stroke-width="1"/>
<polygon points="261.4,228.5 259.8,231.4 256.5,231.4 254.8,228.5 256.5,225.6 259.8,225.6" fill="#111" stroke="#111" stroke-width="1"/>
<circle cx="288.6" cy="70.4" r="2.90" fill="#fff" stroke="#111" stroke-width="1"/>
<circle cx="289.1" cy="76.1" r="2.90" fill="#fff" stroke="#111" stroke-width="1"/>
<circle cx="291.2" cy="85.3" r="2.90" fill="#fff" stroke="#111" stroke-width="1"/>
<circle cx="296.1" cy="100.0" r="2.90" fill="#fff" stroke="#111" stroke-width="1"/>
<circle cx="300.3" cy="103.5" r="2.90" fill="#fff" stroke="#111" stroke-width="1"/>
<circle cx="302.0" cy="110.7" r="2.90" fill="#fff" stroke="#111" stroke-width="1"/>
<polygon points="290.9,83.3 294.6,76.9 287.2,76.9" fill="#fff" stroke="#111" stroke-width="1"/>
<polygon points="293.9,91.5 297.6,85.1 290.2,85.1" fill="#fff" stroke="#111" stroke-width="1"/>
<polygon points="322.9,138.4 326.6,132.0 319.2,132.0" fill="#fff" stroke="#111" stroke-width="1"/>
<polygon points="421.2,199.9 424.9,193.5 417.5,193.5" fill="#fff" stroke="#111" stroke-width="1"/>
<polygon points="292.4,90.7 296.1,97.1 288.7,97.1" fill="#fff" stroke="#111" stroke-width="1"/>
<polygon points="303.6,113.9 307.3,120.3 299.9,120.3" fill="#fff" stroke="#111" stroke-width="1"/>
<polygon points="355.8,137.1 359.5,143.5 352.1,143.5" fill="#fff" stroke="#111" stroke-width="1"/>
<polygon points="381.8,151.1 385.5,157.5 378.1,157.5" fill="#fff" stroke="#111" stroke-width="1"/>
<polygon points="400.2,173.5 403.9,179.9 396.5,179.9" fill="#fff" stroke="#111" stroke-width="1"/>
<rect x="310.9" y="126.3" width="5.20" height="5.20" fill="#fff" stroke="#111" stroke-width="1"/>
<rect x="374.8" y="147.9" width="5.20" height="5.20" fill="#fff" stroke="#111" stroke-width="1"/>
<rect x="390.4" y="162.2" width="5.20" height="5.20" fill="#fff" stroke="#111" stroke-width="1"/>
<rect x="391.4" y="171.2" width="5.20" height="5.20" fill="#fff" stroke="#111" stroke-width="1"/>
<circle cx="458.7" cy="227.9" r="2.90" fill="#fff" stroke="#111" stroke-width="1"/>
<circle cx="422.6" cy="70.0" r="2.90" fill="#111" stroke="#111" stroke-width="1"/>
<circle cx="433.4" cy="76.1" r="2.90" fill="#111" stroke="#111" stroke-width="1"/>
<circle cx="439.7" cy="84.8" r="2.90" fill="#111" stroke="#111" stroke-width="1"/>
<circle cx="434.7" cy="99.6" r="2.90" fill="#111" stroke="#111" stroke-width="1"/>
<circle cx="412.2" cy="103.2" r="2.90" fill="#111" stroke="#111" stroke-width="1"/>
<circle cx="421.6" cy="110.3" r="2.90" fill="#111" stroke="#111" stroke-width="1"/>
<polygon points="424.3,80.0 428.0,73.6 420.6,73.6" fill="#111" stroke="#111" stroke-width="1"/>
<polygon points="441.7,83.3 445.4,76.9 438.0,76.9" fill="#111" stroke="#111" stroke-width="1"/>
<polygon points="431.6,91.4 435.3,85.0 427.9,85.0" fill="#111" stroke="#111" stroke-width="1"/>
<polygon points="425.9,139.7 429.6,133.3 422.2,133.3" fill="#111" stroke="#111" stroke-width="1"/>
<polygon points="336.4,199.6 340.1,193.2 332.7,193.2" fill="#111" stroke="#111" stroke-width="1"/>
<rect x="419.4" y="97.9" width="5.20" height="5.20" fill="#111" stroke="#111" stroke-width="1"/>
<rect x="407.6" y="126.1" width="5.20" height="5.20" fill="#111" stroke="#111" stroke-width="1"/>
<rect x="380.0" y="147.9" width="5.20" height="5.20" fill="#111" stroke="#111" stroke-width="1"/>
<rect x="358.4" y="161.8" width="5.20" height="5.20" fill="#111" stroke="#111" stroke-width="1"/>
<rect x="362.4" y="171.2" width="5.20" height="5.20" fill="#111" stroke="#111" stroke-width="1"/>
<polygon points="450.4,87.6 454.1,94.0 446.7,94.0" fill="#111" stroke="#111" stroke-width="1"/>
<polygon points="438.3,113.5 442.0,119.9 434.6,119.9" fill="#111" stroke="#111" stroke-width="1"/>
<polygon points="389.1,136.6 392.8,143.0 385.4,143.0" fill="#111" stroke="#111" stroke-width="1"/>
<polygon points="373.2,151.1 376.9,157.5 369.5,157.5" fill="#111" stroke="#111" stroke-width="1"/>
<polygon points="356.5,173.1 360.2,179.5 352.8,179.5" fill="#111" stroke="#111" stroke-width="1"/>
<polygon points="292.1,227.9 290.4,230.8 287.2,230.8 285.5,227.9 287.2,225.0 290.4,225.0" fill="#111" stroke="#111" stroke-width="1"/>
<circle cx="642.3" cy="70.1" r="2.90" fill="#fff" stroke="#111" stroke-width="1"/>
<circle cx="632.9" cy="76.0" r="2.90" fill="#fff" stroke="#111" stroke-width="1"/>
<circle cx="616.7" cy="85.1" r="2.90" fill="#fff" stroke="#111" stroke-width="1"/>
<circle cx="600.5" cy="99.8" r="2.90" fill="#fff" stroke="#111" stroke-width="1"/>
<circle cx="600.9" cy="103.1" r="2.90" fill="#fff" stroke="#111" stroke-width="1"/>
<circle cx="596.0" cy="110.5" r="2.90" fill="#fff" stroke="#111" stroke-width="1"/>
<rect x="577.4" y="98.6" width="5.20" height="5.20" fill="#fff" stroke="#111" stroke-width="1"/>
<rect x="470.3" y="126.1" width="5.20" height="5.20" fill="#fff" stroke="#111" stroke-width="1"/>
<rect x="467.7" y="148.2" width="5.20" height="5.20" fill="#fff" stroke="#111" stroke-width="1"/>
<rect x="467.7" y="161.9" width="5.20" height="5.20" fill="#fff" stroke="#111" stroke-width="1"/>
<rect x="467.7" y="170.8" width="5.20" height="5.20" fill="#fff" stroke="#111" stroke-width="1"/>
<polygon points="76.8,401.6 80.5,395.2 73.1,395.2" fill="#fff" stroke="#111" stroke-width="1"/>
<polygon points="77.4,458.9 81.1,452.5 73.7,452.5" fill="#fff" stroke="#111" stroke-width="1"/>
<polygon points="130.4,520.7 134.1,514.3 126.7,514.3" fill="#fff" stroke="#111" stroke-width="1"/>
<circle cx="77.4" cy="406.7" r="2.90" fill="#fff" stroke="#111" stroke-width="1"/>
<circle cx="79.2" cy="425.2" r="2.90" fill="#fff" stroke="#111" stroke-width="1"/>
<circle cx="81.0" cy="431.7" r="2.90" fill="#fff" stroke="#111" stroke-width="1"/>
<polygon points="78.6,435.0 82.3,441.4 74.9,441.4" fill="#fff" stroke="#111" stroke-width="1"/>
<polygon points="78.6,458.8 82.3,465.2 74.9,465.2" fill="#fff" stroke="#111" stroke-width="1"/>
<polygon points="86.8,472.3 90.5,478.7 83.1,478.7" fill="#fff" stroke="#111" stroke-width="1"/>
<polygon points="213.2,493.8 216.9,500.2 209.5,500.2" fill="#fff" stroke="#111" stroke-width="1"/>
<rect x="74.8" y="447.0" width="5.20" height="5.20" fill="#fff" stroke="#111" stroke-width="1"/>
<rect x="78.4" y="447.0" width="5.20" height="5.20" fill="#fff" stroke="#111" stroke-width="1"/>
<rect x="74.6" y="468.4" width="5.20" height="5.20" fill="#fff" stroke="#111" stroke-width="1"/>
<rect x="75.4" y="483.2" width="5.20" height="5.20" fill="#fff" stroke="#111" stroke-width="1"/>
<rect x="76.4" y="492.2" width="5.20" height="5.20" fill="#fff" stroke="#111" stroke-width="1"/>
<rect x="80.1" y="492.2" width="5.20" height="5.20" fill="#fff" stroke="#111" stroke-width="1"/>
<polygon points="78.6,401.6 82.3,395.2 74.9,395.2" fill="#111" stroke="#111" stroke-width="1"/>
<polygon points="81.0,402.2 84.7,395.8 77.3,395.8" fill="#111" stroke="#111" stroke-width="1"/>
<polygon points="82.7,412.9 86.4,406.5 79.0,406.5" fill="#111" stroke="#111" stroke-width="1"/>
<polygon points="108.5,460.6 112.2,454.2 104.8,454.2" fill="#111" stroke="#111" stroke-width="1"/>
<polygon points="213.2,520.7 216.9,514.3 209.5,514.3" fill="#111" stroke="#111" stroke-width="1"/>
<circle cx="80.0" cy="401.0" r="2.90" fill="#111" stroke="#111" stroke-width="1"/>
<circle cx="82.0" cy="406.0" r="2.90" fill="#111" stroke="#111" stroke-width="1"/>
<circle cx="83.9" cy="424.0" r="2.90" fill="#111" stroke="#111" stroke-width="1"/>
<circle cx="85.1" cy="431.7" r="2.90" fill="#111" stroke="#111" stroke-width="1"/>
<rect x="80.7" y="419.0" width="5.20" height="5.20" fill="#111" stroke="#111" stroke-width="1"/>
<rect x="92.5" y="447.4" width="5.20" height="5.20" fill="#111" stroke="#111" stroke-width="1"/>
<rect x="154.5" y="469.1" width="5.20" height="5.20" fill="#111" stroke="#111" stroke-width="1"/>
<rect x="186.9" y="483.2" width="5.20" height="5.20" fill="#111" stroke="#111" stroke-width="1"/>
<rect x="181.4" y="492.2" width="5.20" height="5.20" fill="#111" stroke="#111" stroke-width="1"/>
<polygon points="81.5,409.3 85.2,415.7 77.8,415.7" fill="#111" stroke="#111" stroke-width="1"/>
<polygon points="92.9,435.0 96.6,441.4 89.2,441.4" fill="#111" stroke="#111" stroke-width="1"/>
<polygon points="147.1,458.0 150.8,464.4 143.4,464.4" fill="#111" stroke="#111" stroke-width="1"/>
<polygon points="172.1,472.3 175.8,478.7 168.4,478.7" fill="#111" stroke="#111" stroke-width="1"/>
<polygon points="208.4,493.8 212.1,500.2 204.7,500.2" fill="#111" stroke="#111" stroke-width="1"/>
<circle cx="248.4" cy="549.7" r="2.90" fill="#111" stroke="#111" stroke-width="1"/>
<circle cx="259.0" cy="549.7" r="2.90" fill="#fff" stroke="#111" stroke-width="1"/>
<polygon points="278.0,401.1 281.7,394.7 274.3,394.7" fill="#fff" stroke="#111" stroke-width="1"/>
<polygon points="278.6,405.5 282.3,399.1 274.9,399.1" fill="#fff" stroke="#111" stroke-width="1"/>
<polygon points="285.2,413.2 288.9,406.8 281.5,406.8" fill="#fff" stroke="#111" stroke-width="1"/>
<polygon points="277.5,460.4 281.2,454.0 273.8,454.0" fill="#fff" stroke="#111" stroke-width="1"/>
<polygon points="316.1,520.5 319.8,514.1 312.4,514.1" fill="#fff" stroke="#111" stroke-width="1"/>
<circle cx="277.2" cy="407.0" r="2.90" fill="#fff" stroke="#111" stroke-width="1"/>
<circle cx="279.8" cy="421.3" r="2.90" fill="#fff" stroke="#111" stroke-width="1"/>
<circle cx="277.5" cy="424.5" r="2.90" fill="#fff" stroke="#111" stroke-width="1"/>
<circle cx="281.6" cy="432.0" r="2.90" fill="#fff" stroke="#111" stroke-width="1"/>
<polygon points="281.6,409.3 285.3,415.7 277.9,415.7" fill="#fff" stroke="#111" stroke-width="1"/>
<polygon points="275.4,434.7 279.1,441.1 271.7,441.1" fill="#fff" stroke="#111" stroke-width="1"/>
<polygon points="316.5,458.5 320.2,464.9 312.8,464.9" fill="#fff" stroke="#111" stroke-width="1"/>
<polygon points="318.3,473.2 322.0,479.6 314.6,479.6" fill="#fff" stroke="#111" stroke-width="1"/>
<polygon points="388.9,494.3 392.6,500.7 385.2,500.7" fill="#fff" stroke="#111" stroke-width="1"/>
<rect x="330.3" y="447.7" width="5.20" height="5.20" fill="#fff" stroke="#111" stroke-width="1"/>
<rect x="302.6" y="469.7" width="5.20" height="5.20" fill="#fff" stroke="#111" stroke-width="1"/>
<rect x="290.6" y="483.4" width="5.20" height="5.20" fill="#fff" stroke="#111" stroke-width="1"/>
<rect x="323.4" y="492.4" width="5.20" height="5.20" fill="#fff" stroke="#111" stroke-width="1"/>
<circle cx="449.3" cy="549.7" r="2.90" fill="#fff" stroke="#111" stroke-width="1"/>
<polygon points="553.3,434.2 557.0,440.6 549.6,440.6" fill="#fff" stroke="#111" stroke-width="1"/>
<polygon points="554.4,458.3 558.1,464.7 550.7,464.7" fill="#fff" stroke="#111" stroke-width="1"/>
<polygon points="602.6,472.5 606.3,478.9 598.9,478.9" fill="#fff" stroke="#111" stroke-width="1"/>
<polygon points="628.5,494.3 632.2,500.7 624.8,500.7" fill="#fff" stroke="#111" stroke-width="1"/>
<polygon points="553.8,494.3 557.5,500.7 550.1,500.7" fill="#111" stroke="#111" stroke-width="1"/>
<polygon points="636.3,472.0 640.0,478.4 632.6,478.4" fill="#111" stroke="#111" stroke-width="1"/>
<polygon points="512.7,549.9 511.0,552.8 507.8,552.8 506.1,549.9 507.8,547.0 511.0,547.0" fill="#111" stroke="#111" stroke-width="1"/>
<circle cx="526.0" cy="549.9" r="2.90" fill="#fff" stroke="#111" stroke-width="1"/>
<polygon points="91.2,703.8 94.5,698.2 87.9,698.2" fill="#fff" stroke="#111" stroke-width="1"/>
<polygon points="94.1,704.6 97.4,699.0 90.8,699.0" fill="#fff" stroke="#111" stroke-width="1"/>
<polygon points="86.2,715.8 89.5,710.2 82.9,710.2" fill="#fff" stroke="#111" stroke-width="1"/>
<polygon points="99.4,762.7 102.7,757.1 96.1,757.1" fill="#fff" stroke="#111" stroke-width="1"/>
<polygon points="147.4,823.4 150.7,817.8 144.1,817.8" fill="#fff" stroke="#111" stroke-width="1"/>
<circle cx="98.6" cy="700.4" r="2.55" fill="#fff" stroke="#111" stroke-width="1"/>
<circle cx="91.9" cy="709.7" r="2.55" fill="#fff" stroke="#111" stroke-width="1"/>
<circle cx="92.2" cy="724.3" r="2.55" fill="#fff" stroke="#111" stroke-width="1"/>
<circle cx="130.7" cy="735.0" r="2.55" fill="#fff" stroke="#111" stroke-width="1"/>
<polygon points="103.1,713.1 106.4,718.7 99.8,718.7" fill="#fff" stroke="#111" stroke-width="1"/>
<polygon points="91.9,738.8 95.2,744.4 88.6,744.4" fill="#fff" stroke="#111" stroke-width="1"/>
<polygon points="91.2,761.9 94.5,767.5 87.9,767.5" fill="#fff" stroke="#111" stroke-width="1"/>
<polygon points="107.9,776.1 111.2,781.7 104.6,781.7" fill="#fff" stroke="#111" stroke-width="1"/>
<polygon points="163.1,797.9 166.4,803.5 159.8,803.5" fill="#fff" stroke="#111" stroke-width="1"/>
<rect x="96.7" y="725.0" width="4.58" height="4.58" fill="#fff" stroke="#111" stroke-width="1"/>
<rect x="116.9" y="751.0" width="4.58" height="4.58" fill="#fff" stroke="#111" stroke-width="1"/>
<rect x="133.7" y="772.4" width="4.58" height="4.58" fill="#fff" stroke="#111" stroke-width="1"/>
<rect x="157.5" y="786.3" width="4.58" height="4.58" fill="#fff" stroke="#111" stroke-width="1"/>
<rect x="131.7" y="795.7" width="4.58" height="4.58" fill="#fff" stroke="#111" stroke-width="1"/>
<g fill="none" stroke="#222" stroke-width="0.9"><circle cx="261.0" cy="842.5" r="2.6"/><path d="M257.8 839.3L264.2 845.7M264.2 839.3L257.8 845.7M258.0 839.1V845.9M264.0 839.1V845.9"/></g>
<g fill="none" stroke="#222" stroke-width="0.9"><circle cx="241.2" cy="849.3" r="2.6"/><path d="M238.0 846.1L244.4 852.5M244.4 846.1L238.0 852.5M238.2 845.9V852.7M244.2 845.9V852.7"/></g>
<g fill="none" stroke="#222" stroke-width="0.9"><circle cx="249.5" cy="857.3" r="2.6"/><path d="M246.3 854.1L252.7 860.5M252.7 854.1L246.3 860.5M246.5 853.9V860.7M252.5 853.9V860.7"/></g>
<g fill="none" stroke="#222" stroke-width="0.9"><circle cx="241.7" cy="863.9" r="2.6"/><path d="M238.5 860.7L244.9 867.1M244.9 860.7L238.5 867.1M238.7 860.5V867.3M244.7 860.5V867.3"/></g>
<circle cx="273.6" cy="700.4" r="2.55" fill="#fff" stroke="#111" stroke-width="1"/>
<circle cx="273.6" cy="709.4" r="2.55" fill="#fff" stroke="#111" stroke-width="1"/>
<circle cx="274.2" cy="724.6" r="2.55" fill="#fff" stroke="#111" stroke-width="1"/>
<circle cx="273.6" cy="727.3" r="2.55" fill="#fff" stroke="#111" stroke-width="1"/>
<circle cx="273.6" cy="734.7" r="2.55" fill="#fff" stroke="#111" stroke-width="1"/>
<polygon points="273.6,713.4 276.9,719.0 270.3,719.0" fill="#fff" stroke="#111" stroke-width="1"/>
<polygon points="273.6,739.5 276.9,745.1 270.3,745.1" fill="#fff" stroke="#111" stroke-width="1"/>
<polygon points="287.7,761.9 291.0,767.5 284.4,767.5" fill="#fff" stroke="#111" stroke-width="1"/>
<polygon points="292.4,776.6 295.7,782.2 289.1,782.2" fill="#fff" stroke="#111" stroke-width="1"/>
<polygon points="425.0,797.7 428.3,803.3 421.7,803.3" fill="#fff" stroke="#111" stroke-width="1"/>
<polygon points="274.5,717.2 277.8,711.6 271.2,711.6" fill="#fff" stroke="#111" stroke-width="1"/>
<polygon points="274.7,762.0 278.0,756.4 271.4,756.4" fill="#fff" stroke="#111" stroke-width="1"/>
<polygon points="316.2,823.9 319.5,818.3 312.9,818.3" fill="#fff" stroke="#111" stroke-width="1"/>
<rect x="292.2" y="750.6" width="4.58" height="4.58" fill="#fff" stroke="#111" stroke-width="1"/>
<rect x="299.2" y="772.7" width="4.58" height="4.58" fill="#fff" stroke="#111" stroke-width="1"/>
<rect x="290.7" y="786.2" width="4.58" height="4.58" fill="#fff" stroke="#111" stroke-width="1"/>
<rect x="324.3" y="795.6" width="4.58" height="4.58" fill="#fff" stroke="#111" stroke-width="1"/>
<g fill="none" stroke="#222" stroke-width="0.9"><circle cx="273.9" cy="842.0" r="2.6"/><path d="M270.7 838.8L277.1 845.2M277.1 838.8L270.7 845.2M270.9 838.6V845.4M276.9 838.6V845.4"/></g>
<g fill="none" stroke="#222" stroke-width="0.9"><circle cx="277.0" cy="849.2" r="2.6"/><path d="M273.8 846.0L280.2 852.4M280.2 846.0L273.8 852.4M274.0 845.8V852.6M280.0 845.8V852.6"/></g>
<g fill="none" stroke="#222" stroke-width="0.9"><circle cx="273.9" cy="856.8" r="2.6"/><path d="M270.7 853.6L277.1 860.0M277.1 853.6L270.7 860.0M270.9 853.4V860.2M276.9 853.4V860.2"/></g>
<g fill="none" stroke="#222" stroke-width="0.9"><circle cx="281.5" cy="863.9" r="2.6"/><path d="M278.3 860.7L284.7 867.1M284.7 860.7L278.3 867.1M278.5 860.5V867.3M284.5 860.5V867.3"/></g>
<polygon points="470.5,703.7 473.8,698.1 467.2,698.1" fill="#fff" stroke="#111" stroke-width="1"/>
<polygon points="540.0,704.8 543.3,699.2 536.7,699.2" fill="#fff" stroke="#111" stroke-width="1"/>
<polygon points="540.0,707.6 543.3,702.0 536.7,702.0" fill="#fff" stroke="#111" stroke-width="1"/>
<polygon points="488.7,715.5 492.0,709.9 485.4,709.9" fill="#fff" stroke="#111" stroke-width="1"/>
<polygon points="470.0,762.0 473.3,756.4 466.7,756.4" fill="#fff" stroke="#111" stroke-width="1"/>
<polygon points="470.0,823.4 473.3,817.8 466.7,817.8" fill="#fff" stroke="#111" stroke-width="1"/>
<circle cx="636.7" cy="701.0" r="2.55" fill="#fff" stroke="#111" stroke-width="1"/>
<circle cx="588.0" cy="709.5" r="2.55" fill="#fff" stroke="#111" stroke-width="1"/>
<circle cx="490.3" cy="724.0" r="2.55" fill="#fff" stroke="#111" stroke-width="1"/>
<circle cx="493.1" cy="727.9" r="2.55" fill="#fff" stroke="#111" stroke-width="1"/>
<circle cx="532.1" cy="735.0" r="2.55" fill="#fff" stroke="#111" stroke-width="1"/>
<polygon points="558.2,712.6 561.5,718.2 554.9,718.2" fill="#fff" stroke="#111" stroke-width="1"/>
<polygon points="473.2,737.9 476.5,743.5 469.9,743.5" fill="#fff" stroke="#111" stroke-width="1"/>
<polygon points="472.0,760.5 475.3,766.1 468.7,766.1" fill="#fff" stroke="#111" stroke-width="1"/>
<polygon points="470.0,776.6 473.3,782.2 466.7,782.2" fill="#fff" stroke="#111" stroke-width="1"/>
<polygon points="470.0,799.0 473.3,804.6 466.7,804.6" fill="#fff" stroke="#111" stroke-width="1"/>
<rect x="475.7" y="722.7" width="4.58" height="4.58" fill="#fff" stroke="#111" stroke-width="1"/>
<rect x="491.7" y="750.6" width="4.58" height="4.58" fill="#fff" stroke="#111" stroke-width="1"/>
<rect x="467.7" y="772.7" width="4.58" height="4.58" fill="#fff" stroke="#111" stroke-width="1"/>
<rect x="467.7" y="786.4" width="4.58" height="4.58" fill="#fff" stroke="#111" stroke-width="1"/>
<rect x="467.7" y="795.2" width="4.58" height="4.58" fill="#fff" stroke="#111" stroke-width="1"/>
<polygon points="467.2,840.6 468.7,839.0 471.9,839.0 473.4,840.6 471.9,842.2 468.7,842.2" fill="#aaa" stroke="#111" stroke-width="1"/>
<polygon points="467.2,844.1 468.7,842.5 471.9,842.5 473.4,844.1 471.9,845.7 468.7,845.7" fill="#aaa" stroke="#111" stroke-width="1"/>
<polygon points="467.2,847.4 468.7,845.8 471.9,845.8 473.4,847.4 471.9,849.0 468.7,849.0" fill="#aaa" stroke="#111" stroke-width="1"/>
<polygon points="467.2,850.9 468.7,849.3 471.9,849.3 473.4,850.9 471.9,852.5 468.7,852.5" fill="#aaa" stroke="#111" stroke-width="1"/>
<polygon points="467.2,855.4 468.7,853.8 471.9,853.8 473.4,855.4 471.9,857.0 468.7,857.0" fill="#aaa" stroke="#111" stroke-width="1"/>
<polygon points="467.2,859.1 468.7,857.5 471.9,857.5 473.4,859.1 471.9,860.7 468.7,860.7" fill="#aaa" stroke="#111" stroke-width="1"/>
<polygon points="467.2,862.4 468.7,860.8 471.9,860.8 473.4,862.4 471.9,864.0 468.7,864.0" fill="#aaa" stroke="#111" stroke-width="1"/>
<polygon points="467.2,865.9 468.7,864.3 471.9,864.3 473.4,865.9 471.9,867.5 468.7,867.5" fill="#aaa" stroke="#111" stroke-width="1"/>
<text x="77.2" y="130.8" font-size="11.2" text-anchor="start" textLength="24" lengthAdjust="spacingAndGlyphs">SO<tspan font-size="7.5" dy="3.2">4</tspan><tspan font-size="7.5" dy="-7.6">2-</tspan></text>
<text x="170.3" y="130.8" font-size="11.2" text-anchor="start" textLength="11.5" lengthAdjust="spacingAndGlyphs">Cl<tspan font-size="7.5" dy="-4">-</tspan></text>
<text x="277.6" y="128.9" font-size="10.8" text-anchor="start" textLength="19.5" lengthAdjust="spacingAndGlyphs">Mg<tspan font-size="7.5" dy="-4">2+</tspan></text>
<text x="445.2" y="129.7" font-size="10.8" text-anchor="start" textLength="16.2" lengthAdjust="spacingAndGlyphs">Na<tspan font-size="7.5" dy="-4">+</tspan></text>
<text x="529" y="452.8" font-size="10.8" text-anchor="start" textLength="20.5" lengthAdjust="spacingAndGlyphs">δ<tspan font-size="7.5" dy="-4">13</tspan><tspan dy="4">C</tspan></text>
<text x="535.8" y="494.4" font-size="10.8" text-anchor="start" textLength="13.5" lengthAdjust="spacingAndGlyphs">δD</text>
</svg></body></html>
